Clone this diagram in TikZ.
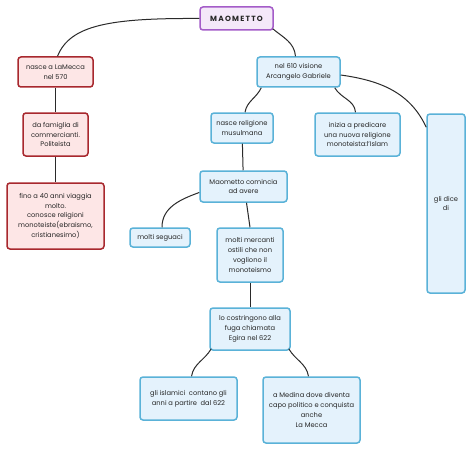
\documentclass[tikz,border=0pt]{standalone}
\usepackage{fontspec}
\setmainfont{Poppins}
\usepackage{xcolor}
\usetikzlibrary{positioning}

\definecolor{redline}{HTML}{A8282E}
\definecolor{redfill}{HTML}{FDE6E6}
\definecolor{blueline}{HTML}{5AB2D8}
\definecolor{bluefill}{HTML}{E4F2FC}
\definecolor{purpleline}{HTML}{A45CC8}
\definecolor{purplefill}{HTML}{F4E8F9}
\definecolor{linkgray}{HTML}{2A2A2A}

\tikzset{
  box/.style={draw, rounded corners=3pt, line width=1.5pt, align=center,
    inner sep=1pt, font=\fontsize{6.7}{9.7}\selectfont, text=black!85},
  redbox/.style={box, draw=redline, fill=redfill},
  bluebox/.style={box, draw=blueline, fill=bluefill},
  topbox/.style={box, draw=purpleline, fill=purplefill,
    font=\fontsize{7.5}{9}\selectfont\bfseries},
  link/.style={draw=linkgray, line width=1pt},
}

\begin{document}
\begin{tikzpicture}[x=1pt, y=-1pt]
\useasboundingbox (0,0) rectangle (474,452);
\fill[white] (0,0) rectangle (474,452);

\node[topbox, minimum width=73pt, minimum height=23pt] (maom) at (236.5,18.5) {M\,A\,O\,M\,E\,T\,T\,O};

%left branch
\node[redbox, minimum width=75pt, minimum height=30pt] (mecca) at (55.5,72) {nasce a LaMecca\\nel 570};
\node[redbox, minimum width=65pt, minimum height=43pt] (famiglia) at (55.5,134.5) {da famiglia di\\commercianti.\\Politeista};
\node[redbox, minimum width=97pt, minimum height=66pt] (viaggia) at (55.5,216) {fino a 40 anni viaggia\\molto.\\conosce religioni\\monoteiste(ebraismo,\\cristianesimo)};

%right branch
\node[bluebox, minimum width=83pt, minimum height=30pt] (visione) at (298.5,72) {nel 610 visione\\Arcangelo Gabriele};
\node[bluebox, minimum width=62pt, minimum height=30pt] (religione) at (242,128) {nasce religione\\musulmana};
\node[bluebox, minimum width=85pt, minimum height=43pt] (predicare) at (357.5,134.5) {inizia a predicare\\una nuova religione\\monoteista:l'Islam};
\node[bluebox, minimum width=38pt, minimum height=179pt] (dice) at (446,203.5) {gli dice\\di};
\node[bluebox, minimum width=87pt, minimum height=31pt] (comincia) at (243.5,186.5) {Maometto comincia\\ad avere};
\node[bluebox, minimum width=60pt, minimum height=19pt] (seguaci) at (160,237.5) {molti seguaci};
\node[bluebox, minimum width=66pt, minimum height=54pt] (mercanti) at (250,255) {molti mercanti\\ostili che non\\vogliono il\\monoteismo};
\node[bluebox, minimum width=80pt, minimum height=42pt] (egira) at (250,329) {lo costringono alla\\fuga chiamata\\Egira nel 622};
\node[bluebox, minimum width=97pt, minimum height=43pt] (islamici) at (188.5,398.5) {gli islamici\ \ contano gli\\anni a partire\ \ dal 622};
\node[bluebox, minimum width=97pt, minimum height=66pt] (medina) at (311.5,410) {a Medina dove diventa\\capo politico e conquista\\anche\\La Mecca};

%links
\draw[link] (maom.west) .. controls (110,18) and (70,25) .. ([xshift=2pt]mecca.north);
\draw[link] ([xshift=-1pt,yshift=2pt]maom.south east) to[out=-40,in=95] ([xshift=-3pt]visione.north);
\draw[link] (mecca) -- (famiglia);
\draw[link] (famiglia) -- (viaggia);

\draw[link] ([xshift=5pt]visione.south west) to[out=-115,in=80] ([xshift=3pt]religione.north);
\draw[link] ([xshift=-6pt]visione.south east) to[out=-60,in=95] ([xshift=-2pt]predicare.north);
\draw[link] ([yshift=-3pt]visione.east) to[out=-8,in=115] ([yshift=-14pt]dice.north west);
\draw[link] (religione) -- (comincia);
\draw[link] ([yshift=-6pt]comincia.west) to[out=200,in=90] ([xshift=2pt]seguaci.north);
\draw[link] ([xshift=3pt]comincia.south) -- (mercanti.north);
\draw[link] (mercanti) -- (egira);
\draw[link] ([xshift=2pt,yshift=2pt]egira.south west) to[out=-120,in=80] ([xshift=3pt]islamici.north);
\draw[link] ([xshift=-2pt,yshift=2pt]egira.south east) to[out=-60,in=100] ([xshift=-3pt]medina.north);
\end{tikzpicture}
\end{document}
